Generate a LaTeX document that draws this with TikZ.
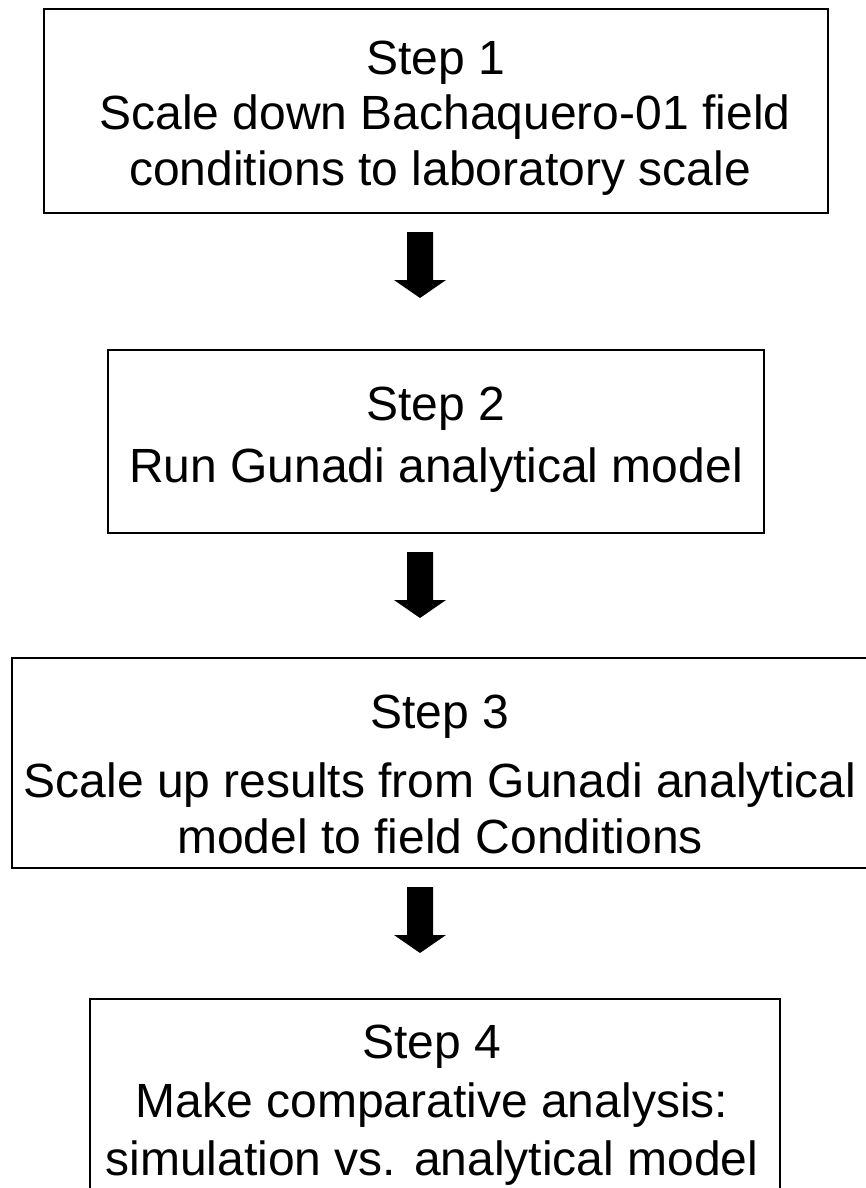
\documentclass[tikz,border=0pt]{standalone}
\usepackage{fontspec}
\setmainfont{Liberation Sans}
\begin{document}
\begin{tikzpicture}[x=1pt,y=-1pt,
  stepbox/.style={draw=black,line width=1.6pt,fill=white},
  txt/.style={anchor=base,inner sep=0pt,font=\fontsize{48}{58}\selectfont},
  blockarrow/.style={fill=black}]
\clip (0,0) rectangle (866,1188);
\fill[white] (0,0) rectangle (866,1188);
% boxes
\draw[stepbox] (44,9) rectangle (828,213);
\draw[stepbox] (108,350) rectangle (764,533);
\draw[stepbox] (12,658) rectangle (872,868);
\draw[stepbox] (90,999) rectangle (780,1210);
% texts
\node[txt] (s1) at (436,75) {Step 1};
\node[txt] (s1a) at (445,130) {Scale down Bachaquero-01 field};
\node[txt] (s1b) at (440,185) {conditions to laboratory scale};
\node[txt] (s2) at (436,420) {Step 2};
\node[txt] (s2a) at (436,482) {Run Gunadi analytical model};
\node[txt] (s3) at (440,728) {Step 3};
\node[txt] (s3a) at (440,797) {Scale up results from Gunadi analytical};
\node[txt] (s3b) at (440,853) {model to field Conditions};
\node[txt] (s4) at (432,1058) {Step 4};
\node[txt] (s4a) at (432,1117) {Make comparative analysis:};
\node[txt] (s4b) at (432,1175) {simulation vs. analytical model};
% block arrows
\foreach \t in {232,552,887}{
  \fill[blockarrow] (407,\t) -- (433,\t) -- (433,\t+48) -- (446,\t+48) -- (420,\t+66) -- (394,\t+48) -- (407,\t+48) -- cycle;
}
\end{tikzpicture}
\end{document}
